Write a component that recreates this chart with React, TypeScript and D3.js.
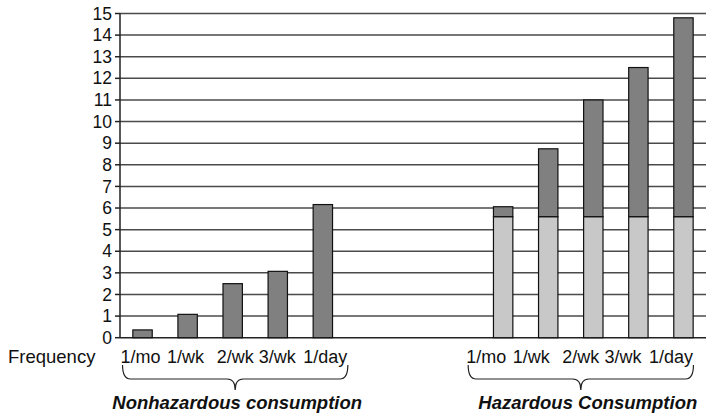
import React from "react";
import { scaleBand, scaleLinear, range } from "d3";

// frequency labels, shared by both groups
const frequencies = ["1/mo", "1/wk", "2/wk", "3/wk", "1/day"];
const nonhazardous = [0.36, 1.08, 2.5, 3.07, 6.16];
// hazardous bars: light base + dark extra on top
const hazardousBase = [5.6, 5.6, 5.6, 5.6, 5.6];
const hazardousTotal = [6.06, 8.74, 11.0, 12.5, 14.8];
const yTicks = range(0, 16);
const groupTitles = ["Nonhazardous consumption", "Hazardous Consumption"];

const width = 714;
const height = 420;
const left = 120;
const right = 706;
const top = 13.5;
const bottom = 337.7;

const font = "Liberation Sans, Arial, sans-serif";
// labels were typed as one line of text, so they don't sit exactly under the bars
const labelNudge = [-2, -2, 2.5, -0.5, 2.5];

function brace(x0: number, x1: number, y0: number, h: number) {
  const mid = (x0 + x1) / 2;
  const r = 8;
  const ym = y0 + h * 0.56;
  return `M${x0},${y0} Q${x0},${ym} ${x0 + r},${ym} L${mid - r},${ym} Q${mid},${ym} ${mid},${y0 + h}` +
    ` Q${mid},${ym} ${mid + r},${ym} L${x1 - r},${ym} Q${x1},${ym} ${x1},${y0}`;
}

export default function App() {
  // 13 slots: 5 nonhazardous, 3 empty, 5 hazardous
  const nonKeys = frequencies.map((f) => "n-" + f);
  const hazKeys = frequencies.map((f) => "h-" + f);
  const slots = [...nonKeys, "gap1", "gap2", "gap3", ...hazKeys];
  const x = scaleBand<string>().domain(slots).range([left, right]).paddingInner(0.57).paddingOuter(0.285);
  const y = scaleLinear().domain([0, 15]).range([bottom, top]);
  const bw = x.bandwidth();
  const cx = (k: string) => (x(k) as number) + bw / 2;

  // the frequency labels under the hazardous group sit a bit left of the bars
  const groups = [
    { keys: nonKeys, shift: 0, titleShift: 2 },
    { keys: hazKeys, shift: -15, titleShift: 7 },
  ];

  return (
    <svg width={width} height={height} style={{ position: "fixed", left: 0, top: 0, background: "#fff" }}>
      {/* gridlines */}
      {yTicks.filter((t) => t > 0).map((t) => (
        <line key={t} x1={left} x2={right} y1={y(t)} y2={y(t)} stroke="#4a4a4a" strokeWidth={1.5} />
      ))}
      {/* axes */}
      <line x1={left} x2={left} y1={y(15)} y2={y(0)} stroke="#222" strokeWidth={1.5} />
      <line x1={left} x2={right} y1={y(0)} y2={y(0)} stroke="#222" strokeWidth={1.5} />
      {yTicks.map((t) => (
        <g key={"t" + t}>
          <line x1={left - 5} x2={left} y1={y(t)} y2={y(t)} stroke="#222" strokeWidth={1.5} />
          <text x={left - 8} y={y(t)} dy="0.35em" textAnchor="end" fontFamily={font} fontSize={17.5} fill="#111">
            {t}
          </text>
        </g>
      ))}

      {/* nonhazardous bars */}
      {nonhazardous.map((v, i) => (
        <rect key={"n" + i} x={x(nonKeys[i])} y={y(v)} width={bw} height={y(0) - y(v)}
          fill="#808080" stroke="#111" strokeWidth={1.2} />
      ))}
      {/* hazardous stacked bars */}
      {hazardousTotal.map((v, i) => (
        <g key={"h" + i}>
          <rect x={x(hazKeys[i])} y={y(hazardousBase[i])} width={bw} height={y(0) - y(hazardousBase[i])}
            fill="#c8c8c8" stroke="#111" strokeWidth={1.2} />
          <rect x={x(hazKeys[i])} y={y(v)} width={bw} height={y(hazardousBase[i]) - y(v)}
            fill="#808080" stroke="#111" strokeWidth={1.2} />
        </g>
      ))}

      {/* category labels */}
      <text x={8} y={363} fontFamily={font} fontSize={18.5} fill="#111">Frequency</text>
      {groups.map(({ keys, shift, titleShift }, g) => {
        const x0 = cx(keys[0]) - 20 + shift;
        const x1 = cx(keys[4]) + 25 + shift;
        return (
          <g key={"g" + g}>
            {keys.map((k, i) => (
              <text key={k} x={cx(k) + shift + labelNudge[i]} y={363} textAnchor="middle" fontFamily={font} fontSize={18} fill="#111">
                {frequencies[i]}
              </text>
            ))}
            <path d={brace(x0, x1, 365, 25)} fill="none" stroke="#222" strokeWidth={1.2} />
            <text x={(x0 + x1) / 2 + titleShift} y={409} textAnchor="middle" fontFamily={font} fontSize={18.5}
              fontWeight="bold" fontStyle="italic" fill="#111">
              {groupTitles[g]}
            </text>
          </g>
        );
      })}
    </svg>
  );
}
